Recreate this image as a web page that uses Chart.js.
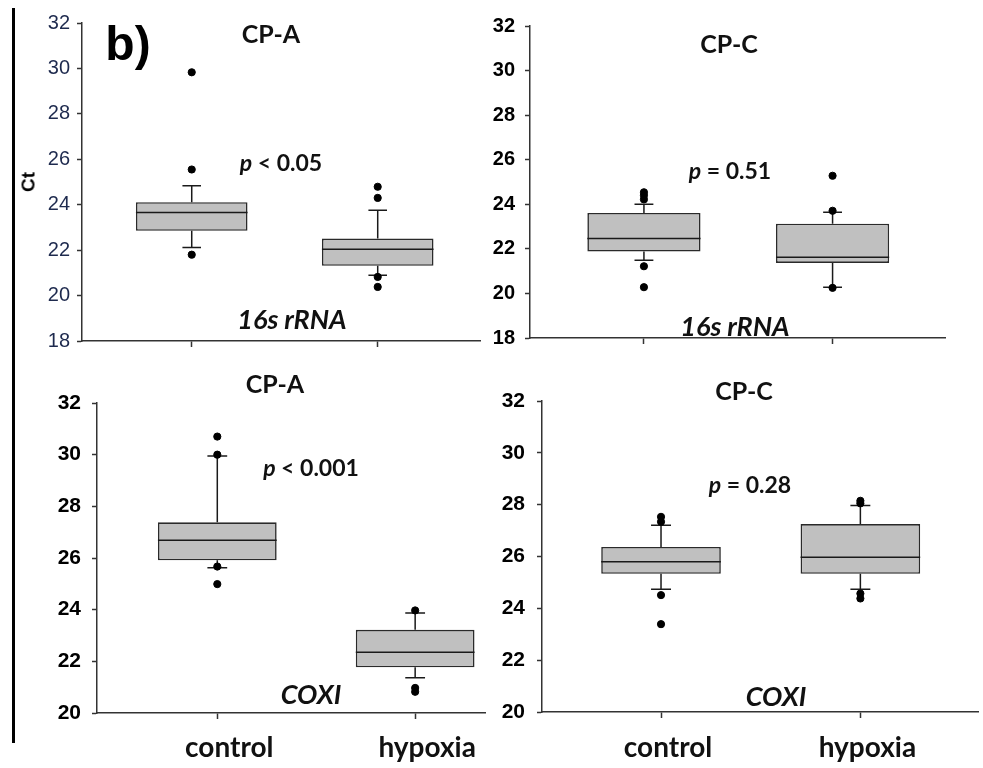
<!DOCTYPE html>
<html>
<head>
<meta charset="utf-8">
<script src="https://cdn.jsdelivr.net/npm/chart.js@4.4.1/dist/chart.umd.min.js"></script>
<style>
  html, body { margin:0; padding:0; background:#fff; }
  body { width:983px; height:768px; position:relative; overflow:hidden; font-family:Lato, "Open Sans", sans-serif; }
  canvas { position:absolute; }
  .t { position:absolute; transform:translate(-50%,-50%); white-space:nowrap; color:#111; font-weight:700; line-height:1; z-index:5; }
  .title { font-size:25px; }
  .pv { font-size:23px; }
  .gene { font-size:27px; font-style:italic; }
  .panel-letter { font-family:"Liberation Sans", Arial, sans-serif; font-size:48px; font-weight:700; color:#000; }
  .ct { font-family:"Liberation Sans", Arial, sans-serif; font-size:19px; font-weight:700; color:#000; transform:translate(-50%,-50%) rotate(-90deg); }
  .vline { position:absolute; left:12px; top:8px; width:3px; height:735px; background:#000; z-index:5; }
</style>
</head>
<body>
<div class="vline"></div>
<div class="t panel-letter" style="left:128px;top:44px;">b)</div>
<div class="t ct" style="left:28px;top:182px;">Ct</div>

<div class="t title" style="left:271px;top:33px;">CP-A</div>
<div class="t pv" style="left:281px;top:162px;"><i>p</i> &lt; 0.05</div>
<div class="t gene" style="left:292px;top:318px;">16s rRNA</div>

<div class="t title" style="left:729px;top:43px;">CP-C</div>
<div class="t pv" style="left:730px;top:170px;"><i>p</i> = 0.51</div>
<div class="t gene" style="left:735px;top:325px;">16s rRNA</div>

<div class="t title" style="left:275px;top:383px;">CP-A</div>
<div class="t pv" style="left:311px;top:467px;"><i>p</i> &lt; 0.001</div>
<div class="t gene" style="left:311px;top:693px;">COXI</div>

<div class="t title" style="left:744px;top:390px;">CP-C</div>
<div class="t pv" style="left:750px;top:484px;"><i>p</i> = 0.28</div>
<div class="t gene" style="left:776px;top:695px;">COXI</div>

<script>
// ---------------- data ----------------
const categories = ['control', 'hypoxia'];

// Box summaries per category: [whiskerLow, Q1, median, Q3, whiskerHigh]
const cpA_16s_boxes = [[22.12, 22.85, 23.66, 24.11, 24.83], [20.90, 21.31, 22.04, 22.51, 23.76]];
const cpA_16s_outliers = [[29.83, 25.55, 21.80], [24.79, 24.30, 20.82, 20.38]];

const cpC_16s_boxes = [[21.49, 21.88, 22.47, 23.61, 24.00], [20.28, 21.37, 21.62, 23.13, 23.64]];
const cpC_16s_outliers = [[24.54, 24.40, 24.22, 21.22, 20.28], [25.28, 23.71, 20.25]];

const cpA_coxi_boxes = [[25.62, 25.91, 26.69, 27.38, 29.95], [21.36, 21.77, 22.35, 23.22, 23.87]];
const cpA_coxi_outliers = [[30.70, 30.00, 25.67, 24.99], [23.97, 20.97, 20.82]];

const cpC_coxi_boxes = [[24.74, 25.33, 25.80, 26.37, 27.21], [24.74, 25.33, 25.97, 27.25, 27.97]];
const cpC_coxi_outliers = [[27.53, 27.34, 24.51, 23.39], [28.15, 28.05, 24.57, 24.38]];

const yTicks16s = [18, 32];   // axis range for 16s rRNA panels
const yTicksCoxi = [20, 32];  // axis range for COXI panels
const yStep = 2;

// ---------------- drawing ----------------
const BOX = 0.6;   // box width in category units
const CAP = 0.05;  // half-width of whisker caps

function buildLine(boxes) {
  const pts = [];
  boxes.forEach((s, i) => {
    const g = () => ({ x: i, y: null });
    pts.push({ x: i, y: s[3] }, { x: i, y: s[4] }, g(),
             { x: i - CAP, y: s[4] }, { x: i + CAP, y: s[4] }, g(),
             { x: i, y: s[1] }, { x: i, y: s[0] }, g(),
             { x: i - CAP, y: s[0] }, { x: i + CAP, y: s[0] }, g(),
             { x: i - BOX / 2, y: s[2] }, { x: i + BOX / 2, y: s[2] }, g());
  });
  return pts;
}

function makePanel(p) {
  const cv = document.createElement('canvas');
  cv.width = p.w; cv.height = p.h;
  cv.style.left = p.left + 'px'; cv.style.top = p.top + 'px';
  cv.style.width = p.w + 'px'; cv.style.height = p.h + 'px';
  document.body.appendChild(cv);

  const boxData = p.boxes.map((s, i) => ({ x: i, y: [s[1], s[3]] }));
  const outData = [];
  p.outliers.forEach((arr, i) => arr.forEach(v => outData.push({ x: i, y: v })));

  const axisColor = '#333';
  new Chart(cv, {
    type: 'bar',
    data: {
      datasets: [
        { type: 'bar', data: boxData, backgroundColor: '#c0c0c0', borderColor: '#2a2a2a',
          borderWidth: 1.6, borderSkipped: false, barPercentage: BOX, categoryPercentage: 1, order: 3 },
        { type: 'line', data: buildLine(p.boxes), borderColor: '#1a1a1a', borderWidth: 1.5,
          pointRadius: 0, spanGaps: false, fill: false, tension: 0, order: 2 },
        { type: 'scatter', data: outData, backgroundColor: '#000', borderColor: '#000',
          pointRadius: 3.6, pointStyle: 'circle', order: 1 }
      ]
    },
    options: {
      responsive: false, animation: false, events: [],
      layout: { padding: { left: 0, top: p.padTop, right: p.padRight, bottom: 0 } },
      plugins: { legend: { display: false }, tooltip: { enabled: false } },
      scales: {
        x: {
          type: 'linear', min: p.xmin, max: p.xmax, offset: false,
          grid: { offset: false, drawOnChartArea: false, drawTicks: true, tickLength: 6, color: axisColor, tickWidth: 1.5 },
          border: { display: true, color: axisColor, width: 1.5 },
          afterBuildTicks: s => { s.ticks = categories.map((c, i) => ({ value: i })); },
          afterFit: s => { s.height = p.xH; },
          ticks: {
            display: p.showX, autoSkip: false, maxRotation: 0,
            callback: v => categories[v],
            font: { family: 'Lato', size: 28, weight: 'bold' }, color: '#111',
            padding: p.xPad, labelOffset: p.labelOffset
          }
        },
        y: {
          type: 'linear', min: p.yRange[0], max: p.yRange[1],
          grid: { drawOnChartArea: false, drawTicks: true, tickLength: 5, color: axisColor, tickWidth: 1.5 },
          border: { display: true, color: axisColor, width: 1.5 },
          afterFit: s => { s.width = p.yW; },
          ticks: {
            stepSize: yStep, padding: p.yPad,
            font: { family: 'Liberation Sans', size: p.ySize, weight: p.yBold ? 'bold' : 'normal' },
            color: p.yColor
          }
        }
      }
    }
  });
}

makePanel({ left: 0, top: 0, w: 490, h: 360, yW: 82, padTop: 23, xH: 19, padRight: 10,
  xmin: -0.59, xmax: 1.55, yRange: yTicks16s, boxes: cpA_16s_boxes, outliers: cpA_16s_outliers,
  showX: false, xPad: 12, labelOffset: 0, yPad: 7, yBold: false, ySize: 20, yColor: '#1e2a4e' });

makePanel({ left: 490, top: 0, w: 493, h: 360, yW: 40, padTop: 26, xH: 15, padRight: 38,
  xmin: -0.604, xmax: 1.596, yRange: yTicks16s, boxes: cpC_16s_boxes, outliers: cpC_16s_outliers,
  showX: false, xPad: 12, labelOffset: 0, yPad: 10, yBold: true, ySize: 20, yColor: '#000' });

makePanel({ left: 0, top: 360, w: 490, h: 408, yW: 97, padTop: 43, xH: 55, padRight: 2,
  xmin: -0.608, xmax: 1.353, yRange: yTicksCoxi, boxes: cpA_coxi_boxes, outliers: cpA_coxi_outliers,
  showX: true, xPad: 12, labelOffset: 12, yPad: 11, yBold: true, ySize: 21, yColor: '#000' });

makePanel({ left: 490, top: 360, w: 493, h: 408, yW: 52, padTop: 41, xH: 56, padRight: 1,
  xmin: -0.597, xmax: 1.59, yRange: yTicksCoxi, boxes: cpC_coxi_boxes, outliers: cpC_coxi_outliers,
  showX: true, xPad: 13, labelOffset: 7, yPad: 12, yBold: true, ySize: 21, yColor: '#000' });
</script>
</body>
</html>
